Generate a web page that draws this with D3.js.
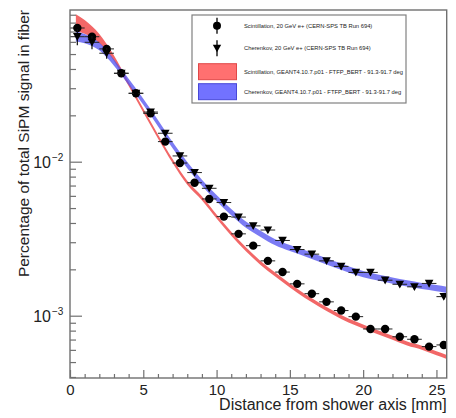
<!DOCTYPE html>
<html><head><meta charset="utf-8">
<script src="https://cdn.jsdelivr.net/npm/d3@7/dist/d3.min.js"></script>
<style>body{margin:0;background:#fff}svg{display:block}text{font-family:"Liberation Sans",Arial,sans-serif}</style>
</head><body><svg id="c" width="456" height="418"></svg>
<script>
// ---- data ----
const dataX = [0.5,1.5,2.5,3.5,4.5,5.5,6.5,7.5,8.5,9.5,10.5,11.5,12.5,13.5,14.5,15.5,16.5,17.5,18.5,19.5,20.5,21.5,22.5,23.5,24.5,25.5];
const scintData = [0.0738,0.0648,0.054,0.0375,0.0278,0.0206,0.0135,0.0098,0.0073,0.00573,0.0044,0.0034,0.00285,0.00227,0.00192,0.00161,0.00139,0.00123,0.00108,0.000986,0.00082,0.00082,0.00073,0.000703,0.00063,0.000646];
const cherData = [0.0648,0.0596,0.0506,0.0375,0.0278,0.021,0.0153,0.0109,0.0085,0.00672,0.00543,0.00437,0.00383,0.0036,0.00308,0.00269,0.00251,0.00227,0.00209,0.00191,0.00191,0.0017,0.0016,0.00154,0.00162,0.00133];
const cherErrRel = [0.12,0.1,0.08,0.05,0.04,0.04,0.04,0.04,0.04,0.04,0.04,0.04,0.04,0.04,0.04,0.04,0.04,0.04,0.04,0.04,0.04,0.04,0.04,0.04,0.04,0.04];
const scintErrRel = [0.05,0.05,0.04,0.04,0.04,0.04,0.04,0.04,0.04,0.04,0.04,0.04,0.04,0.04,0.04,0.04,0.04,0.04,0.04,0.04,0.04,0.04,0.04,0.04,0.04,0.04];
const simX = [0.4,1,2,3,4,5,6,7,8,9,10,11,12,13,14,15,16,17,18,19,20,21,22,23,24,25,25.7];
const scintSim = [0.080,0.075,0.063,0.047,0.032,0.0215,0.0146,0.0101,0.0073,0.0058,0.0044,0.0034,0.0027,0.0022,0.00185,0.00157,0.00135,0.00118,0.00104,0.00093,0.00085,0.00078,0.00072,0.00066,0.00062,0.00057,0.00054];
const scintSimHalfLog = [0.055,0.045,0.03,0.018,0.013,0.013,0.013,0.013,0.013,0.013,0.013,0.013,0.013,0.013,0.013,0.013,0.013,0.013,0.013,0.013,0.013,0.013,0.013,0.013,0.013,0.013,0.013];
const cherSim = [0.065,0.063,0.056,0.044,0.033,0.0245,0.0178,0.0128,0.0095,0.0073,0.0058,0.0047,0.0039,0.0034,0.0030,0.00275,0.00255,0.00235,0.00216,0.0020,0.00186,0.00177,0.00169,0.00162,0.00156,0.00151,0.00147];
const cherSimHalfLog = [0.032,0.03,0.025,0.02,0.02,0.02,0.02,0.02,0.02,0.02,0.02,0.02,0.02,0.02,0.02,0.02,0.02,0.02,0.02,0.02,0.02,0.02,0.02,0.02,0.02,0.02,0.02];
const xMajorTicks = [0,5,10,15,20,25];
const yMajorTicks = [1e-2,1e-3];
const yTickExp = ["\u22122","\u22123"];
const legendLabels = ["Scintillation, 20 GeV e+ (CERN-SPS TB Run 694)","Cherenkov, 20 GeV e+ (CERN-SPS TB Run 694)","Scintillation, GEANT4.10.7.p01 - FTFP_BERT - 91.3-91.7 deg","Cherenkov, GEANT4.10.7.p01 - FTFP_BERT - 91.3-91.7 deg"];
const xTitle = "Distance from shower axis [mm]";
const yTitle = "Percentage of total SiPM signal in fiber";

// ---- layout ----
const L=70,R=446.7,T=10,B=378;
const svg=d3.select("#c");
const x=d3.scaleLinear().domain([0,25.7]).range([L,R]);
const y=d3.scaleLog().domain([3.94e-4,0.0966]).range([B,T]);
const red="#f04c4c", blue="#4f4ff0";

svg.append("clipPath").attr("id","clp").append("rect").attr("x",L).attr("y",T).attr("width",R-L).attr("height",B-T);
const g=svg.append("g").attr("clip-path","url(#clp)");

function band(vals,half){
  return d3.area().curve(d3.curveMonotoneX)
    .x((d,i)=>x(simX[i]))
    .y0((d,i)=>y(vals[i]*Math.pow(10,-half[i])))
    .y1((d,i)=>y(vals[i]*Math.pow(10,half[i])))(simX);
}
g.append("path").attr("d",band(scintSim,scintSimHalfLog)).attr("fill",red).attr("fill-opacity",0.85);
g.append("path").attr("d",band(cherSim,cherSimHalfLog)).attr("fill",blue).attr("fill-opacity",0.75);

function points(vals,err,shape){
  const pg=g.append("g");
  vals.forEach((v,i)=>{
    const cx=x(dataX[i]), cy=y(v);
    pg.append("line").attr("x1",x(dataX[i]-0.5)).attr("x2",x(dataX[i]+0.5)).attr("y1",cy).attr("y2",cy).attr("stroke","#222").attr("stroke-width",1);
    pg.append("line").attr("x1",cx).attr("x2",cx).attr("y1",y(v*(1-err[i]))).attr("y2",y(v*(1+err[i]))).attr("stroke","#111").attr("stroke-width",1.2);
    if(shape==="c") pg.append("circle").attr("cx",cx).attr("cy",cy).attr("r",4.2).attr("fill","#000");
    else pg.append("path").attr("d",`M${cx-4.3},${cy-3.6}L${cx+4.3},${cy-3.6}L${cx},${cy+4.2}Z`).attr("fill","#000");
  });
}
points(scintData,scintErrRel,"c");
points(cherData,cherErrRel,"t");

// frame
svg.append("rect").attr("x",L).attr("y",T).attr("width",R-L).attr("height",B-T).attr("fill","none").attr("stroke","#707070").attr("stroke-width",1.4);

// x axis
const xa=svg.append("g").attr("transform",`translate(0,${B})`)
  .call(d3.axisBottom(x).tickValues(xMajorTicks).tickSize(-8).tickPadding(6).tickFormat(d3.format("d")));
xa.select(".domain").remove();
xa.selectAll("line").attr("stroke","#707070").attr("stroke-width",1.2);
xa.selectAll("text").attr("font-size",15).attr("fill","#222");
const xm=svg.append("g").attr("transform",`translate(0,${B})`)
  .call(d3.axisBottom(x).tickValues(d3.range(0,26,1).filter(v=>v%5)).tickSize(-4).tickFormat(""));
xm.select(".domain").remove();
xm.selectAll("line").attr("stroke","#707070").attr("stroke-width",1.2);

// y axis
const ya=svg.append("g").attr("transform",`translate(${L},0)`)
  .call(d3.axisLeft(y).tickValues(yMajorTicks).tickSize(-12).tickFormat(""));
ya.select(".domain").remove();
ya.selectAll("line").attr("stroke","#707070").attr("stroke-width",1.2);
const minorY=[];
[1e-4,1e-3,1e-2].forEach(d=>{for(let k=2;k<=9;k++){const v=d*k;if(v>=3.94e-4&&v<=0.0966)minorY.push(v);}});
const ym=svg.append("g").attr("transform",`translate(${L},0)`)
  .call(d3.axisLeft(y).tickValues(minorY).tickSize(-6).tickFormat(""));
ym.select(".domain").remove();
ym.selectAll("line").attr("stroke","#707070").attr("stroke-width",1.2);
yMajorTicks.forEach((v,i)=>{
  svg.append("text").attr("x",L-19).attr("y",y(v)+6).attr("text-anchor","end").attr("font-size",16).attr("fill","#222").text("10");
  svg.append("text").attr("x",L-18).attr("y",y(v)-1).attr("text-anchor","start").attr("font-size",10).attr("fill","#222").text(yTickExp[i]);
});

// titles
svg.append("text").attr("x",R).attr("y",410).attr("text-anchor","end").attr("font-size",16).attr("fill","#222").text(xTitle);
svg.append("text").attr("transform",`translate(29,${T}) rotate(-90)`).attr("text-anchor","end").attr("font-size",15.5).attr("fill","#222").text(yTitle);

// legend
const lg=svg.append("g");
lg.append("rect").attr("x",192).attr("y",15).attr("width",214).attr("height",88).attr("fill","#fff").attr("stroke","#808080").attr("stroke-width",1.2);
const ly=[25.7,48.3,71.7,91.7];
const mx=217;
lg.append("line").attr("x1",mx).attr("x2",mx).attr("y1",ly[0]-8).attr("y2",ly[0]+8).attr("stroke","#000").attr("stroke-width",1.3);
lg.append("circle").attr("cx",mx).attr("cy",ly[0]).attr("r",4).attr("fill","#000");
lg.append("line").attr("x1",mx).attr("x2",mx).attr("y1",ly[1]-8).attr("y2",ly[1]+8).attr("stroke","#000").attr("stroke-width",1.3);
lg.append("path").attr("d",`M${mx-4.2},${ly[1]-3.5}L${mx+4.2},${ly[1]-3.5}L${mx},${ly[1]+4}Z`).attr("fill","#000");
lg.append("rect").attr("x",198.5).attr("y",ly[2]-8).attr("width",38).attr("height",16).attr("fill","#ff7070").attr("stroke","#e04848").attr("stroke-width",1);
lg.append("rect").attr("x",198.5).attr("y",ly[3]-8).attr("width",38).attr("height",16).attr("fill","#7272ff").attr("stroke","#4848d8").attr("stroke-width",1);
legendLabels.forEach((s,i)=>{
  lg.append("text").attr("x",244).attr("y",ly[i]+2).attr("font-size",5.8).attr("fill","#222").text(s);
});
</script></body></html>
